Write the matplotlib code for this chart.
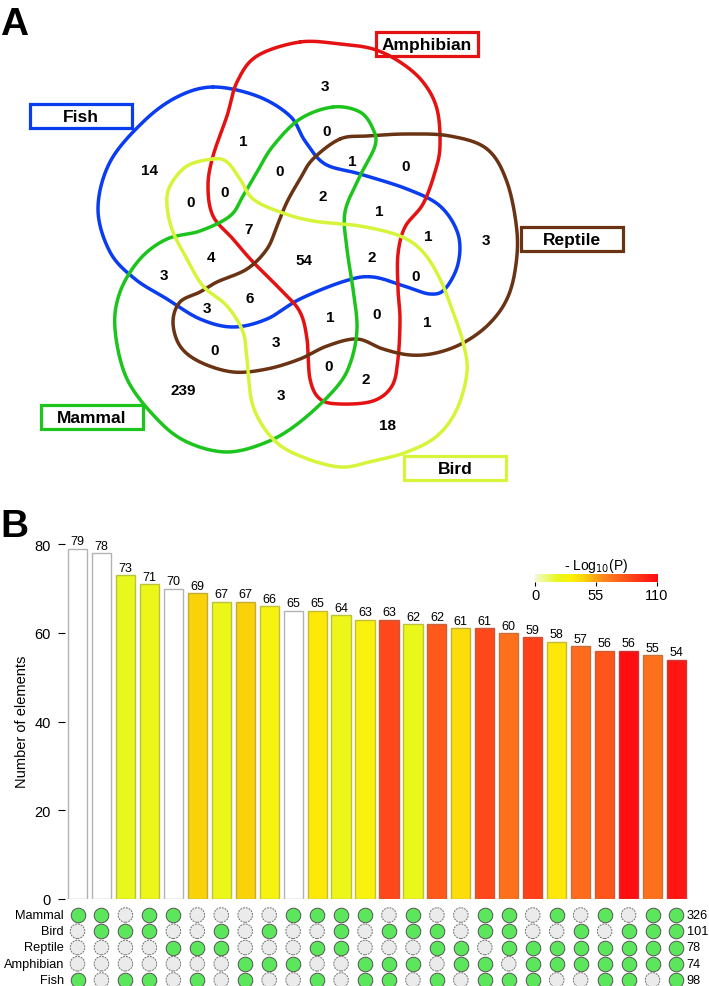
import numpy as np
import matplotlib
matplotlib.use('Agg')
import matplotlib.pyplot as plt
from matplotlib.colors import LinearSegmentedColormap, to_rgb
from matplotlib.patches import Rectangle

plt.rcParams['font.family'] = ['Liberation Sans', 'DejaVu Sans']

# ---- panel A data: counts of the 31 venn regions
venn_counts = [3, 1, 0, 14, 0, 0, 0, 2, 7, 4, 54, 3, 1, 0, 1, 1,
               3, 2, 0, 6, 3, 1, 0, 3, 0, 239, 3, 0, 1, 2, 18]
venn_sets = ['Fish', 'Amphibian', 'Reptile', 'Mammal', 'Bird']

# ---- panel B data
bar_values = [79, 78, 73, 71, 70, 69, 67, 67, 66, 65, 65, 64, 63, 63,
              62, 62, 61, 61, 60, 59, 58, 57, 56, 56, 55, 54]
# -log10(P) per intersection, nan = not tested (white bar)
neglogp = [np.nan, np.nan, 20, 22, np.nan, 44, 22, 44, 28, np.nan, 36, 22, 30, 85,
           21, 78, 40, 85, 70, 88, 36, 72, 80, 108, 70, 105]
row_names = ['Mammal', 'Bird', 'Reptile', 'Amphibian', 'Fish']
row_totals = [326, 101, 78, 74, 98]
membership = [
    [1, 1, 0, 1, 1, 0, 0, 0, 0, 1, 1, 1, 1, 0, 1, 0, 0, 1, 1, 0, 1, 0, 1, 0, 1, 1],
    [0, 1, 1, 1, 0, 0, 1, 0, 1, 0, 0, 1, 0, 1, 1, 1, 0, 1, 1, 0, 0, 1, 0, 1, 1, 1],
    [0, 0, 0, 0, 1, 1, 1, 0, 0, 0, 1, 1, 0, 0, 0, 1, 1, 0, 1, 1, 1, 1, 1, 1, 1, 1],
    [0, 0, 0, 0, 0, 0, 0, 1, 1, 1, 0, 0, 1, 1, 1, 0, 1, 1, 0, 1, 1, 1, 1, 1, 1, 1],
    [1, 0, 1, 1, 0, 1, 0, 1, 0, 0, 1, 0, 1, 1, 0, 1, 0, 1, 1, 1, 0, 0, 1, 1, 0, 1],
]

# ---- layout of panel A (pixel coords of the original figure)
venn_label_pos = [(325, 87), (243, 142), (327, 132), (149, 171), (280, 172), (225, 193),
                  (191, 203), (323, 197), (249, 230), (211, 258), (304, 261), (164, 276),
                  (352, 162), (406, 167), (379, 212), (428, 237), (486, 241), (372, 258),
                  (416, 277), (250, 299), (207, 309), (330, 318), (215, 351), (276, 343),
                  (329, 367), (183, 391), (281, 396), (377, 315), (427, 323), (366, 380),
                  (387, 426)]
shape_pts = {
    'Fish': [(213, 88), (257, 97), (290, 117), (305, 142), (325, 165), (360, 175), (407, 190),
             (440, 207), (458, 235), (458, 265), (445, 290), (430, 295), (407, 288), (373, 278),
             (345, 282), (300, 300), (267, 320), (233, 328), (200, 320), (167, 300), (135, 280),
             (110, 253), (98, 210), (110, 163), (143, 123), (177, 98)],
    'Amphibian': [(300, 43), (340, 45), (373, 50), (400, 63), (423, 83), (437, 110), (440, 147),
                  (435, 173), (423, 205), (405, 228), (398, 255), (398, 290), (400, 320),
                  (398, 360), (392, 387), (373, 402), (340, 405), (320, 400), (310, 380),
                  (307, 340), (300, 313), (283, 293), (253, 263), (233, 240), (213, 217),
                  (208, 187), (213, 157), (227, 117), (237, 83), (257, 57)],
    'Reptile': [(340, 140), (367, 137), (407, 135), (450, 137), (487, 150), (507, 183), (517, 233),
                (515, 272), (506, 302), (488, 326), (463, 344), (436, 354), (410, 356), (383, 350),
                (357, 340), (327, 347), (300, 360), (267, 370), (233, 373), (200, 363), (180, 347),
                (173, 323), (180, 303), (200, 293), (217, 283), (247, 270), (267, 250), (277, 227),
                (287, 203), (300, 180), (313, 160)],
    'Mammal': [(333, 108), (360, 113), (373, 130), (375, 147), (360, 177), (345, 213), (347, 250),
               (353, 290), (357, 330), (350, 365), (335, 390), (300, 423), (267, 443), (227, 453),
               (187, 443), (157, 420), (127, 380), (115, 330), (120, 293), (140, 260), (167, 240),
               (200, 232), (230, 217), (243, 197), (257, 173), (273, 147), (300, 120)],
    'Bird': [(213, 160), (227, 163), (240, 180), (253, 200), (280, 213), (313, 222), (360, 227),
             (400, 237), (423, 253), (440, 280), (453, 313), (463, 343), (467, 373), (457, 410),
             (437, 437), (407, 453), (373, 462), (340, 468), (300, 457), (273, 440), (253, 407),
             (247, 360), (243, 333), (227, 307), (203, 287), (187, 260), (173, 233), (167, 207),
             (170, 187), (187, 167)],
}
set_colors = {'Fish': '#0a3cf0', 'Amphibian': '#e41212', 'Reptile': '#6a3414',
              'Mammal': '#1ec41e', 'Bird': '#d6f53a'}
box_pos = {'Fish': (30, 105), 'Amphibian': (376, 33), 'Reptile': (521, 228),
           'Mammal': (41, 406), 'Bird': (404, 457)}


def closed_curve(pts, n=24):
    # closed Catmull-Rom spline through the control points
    P = np.asarray(pts, float)
    N = len(P)
    t = np.linspace(0, 1, n, endpoint=False)[:, None]
    segs = []
    for i in range(N):
        p0, p1, p2, p3 = P[i - 1], P[i], P[(i + 1) % N], P[(i + 2) % N]
        segs.append(0.5 * (2 * p1 + (-p0 + p2) * t + (2 * p0 - 5 * p1 + 4 * p2 - p3) * t ** 2
                           + (-p0 + 3 * p1 - 3 * p2 + p3) * t ** 3))
    out = np.vstack(segs)
    return np.vstack([out, out[:1]])


fig = plt.figure(figsize=(7.09, 9.87), dpi=100)

# full-figure pixel axes for panel A and letters
ax0 = fig.add_axes([0, 0, 1, 1])
ax0.set_xlim(0, 709)
ax0.set_ylim(987, 0)
ax0.axis('off')

for name in ['Fish', 'Amphibian', 'Reptile', 'Mammal', 'Bird']:
    c = closed_curve(shape_pts[name])
    ax0.plot(c[:, 0], c[:, 1], color=set_colors[name], lw=2.5, solid_capstyle='round')
    bx, by = box_pos[name]
    ax0.add_patch(Rectangle((bx, by), 102, 24, fill=False, ec=set_colors[name], lw=2.3))
    ax0.text(bx + 51, by + 12.5, name, ha='center', va='center', fontsize=12.5, fontweight='bold')

for cnt, (x, y) in zip(venn_counts, venn_label_pos):
    ax0.text(x, y, str(cnt), ha='center', va='center', fontsize=11, fontweight='bold')

ax0.text(0, 35, 'A', fontsize=28, fontweight='bold', va='baseline')
ax0.text(0, 537, 'B', fontsize=28, fontweight='bold', va='baseline')
ax0.text(22, 722, 'Number of elements', rotation=90, ha='center', va='center', fontsize=10.5)

# ---- panel B bars
cmap = LinearSegmentedColormap.from_list('p', [
    (0.0, '#f4fad2'), (0.18, '#e8f81c'), (0.30, '#fff00a'), (0.40, '#fad20a'),
    (0.55, '#ff8a1e'), (0.75, '#ff4e1a'), (1.0, '#ff0a10')])
x = np.arange(1, len(bar_values) + 1)
px_unit = 23.96
left_px, right_px = 65, 700
xl = (1 - (77.5 - left_px) / px_unit, 26 + (right_px - 676.5) / px_unit)

ax = fig.add_axes([left_px / 709, 87 / 987, (right_px - left_px) / 709, 364 / 987])
fills = [(1, 1, 1) if np.isnan(v) else to_rgb(cmap(v / 110)) for v in neglogp]
edges = [(0.7, 0.7, 0.7) if np.isnan(v) else tuple(0.6 * np.array(f) + 0.4 * 0.45)
         for v, f in zip(neglogp, fills)]
ax.bar(x, bar_values, width=0.8, color=fills, edgecolor=edges, lw=1.0)
for xi, v in zip(x, bar_values):
    ax.annotate(str(v), (xi, v), xytext=(0, 1), textcoords='offset points',
                ha='center', va='bottom', fontsize=9)
ax.set_xlim(*xl)
ax.set_ylim(0, 364 / 4.435)
for s in ['top', 'right', 'bottom', 'left']:
    ax.spines[s].set_visible(False)
ax.set_xticks([])
ax.set_yticks([0, 20, 40, 60, 80])
ax.tick_params(axis='y', length=5, width=0.8, pad=5, labelsize=10.5)

# ---- colour key
cax = fig.add_axes([535 / 709, (987 - 583) / 987, 122 / 709, 8 / 987])
cax.imshow(np.linspace(0, 1, 256)[None, :], aspect='auto', cmap=cmap, extent=(0, 110, 0, 1))
cax.set_yticks([])
cax.set_xticks([0, 55, 110])
cax.tick_params(axis='x', length=3, width=0.8, pad=1, labelsize=10.5)
for s in cax.spines.values():
    s.set_visible(False)
cax.set_title('- Log$_{10}$(P)', fontsize=10, pad=1)

# ---- membership matrix
axm = fig.add_axes([left_px / 709, 0, (right_px - left_px) / 709, 80 / 987])
axm.set_xlim(*xl)
axm.set_ylim(-(987 - 916) / 16.25, (916 - 907) / 16.25)
axm.axis('off')
for r, row in enumerate(membership):
    row = np.array(row)
    on = row == 1
    axm.scatter(x[~on], np.full((~on).sum(), -r), s=110, c='#ebebeb', edgecolors='#707070',
                linewidths=0.7, linestyle=(0, (2, 1)), clip_on=False)
    axm.scatter(x[on], np.full(on.sum(), -r), s=110, c='#5ce65c', edgecolors='#555555',
                linewidths=0.7, clip_on=False)
    axm.text(xl[0] - 1 / px_unit, -r, row_names[r], ha='right', va='center', fontsize=9.2,
             clip_on=False)
    axm.text(26.42, -r, str(row_totals[r]), ha='left', va='center', fontsize=9.2, clip_on=False)

fig.savefig('out.png', dpi=100)
